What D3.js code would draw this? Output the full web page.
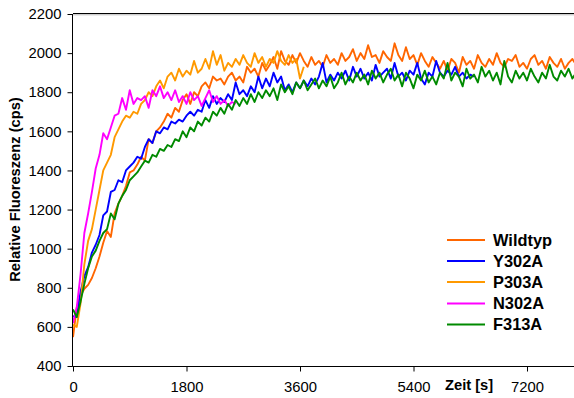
<!DOCTYPE html>
<html>
<head>
<meta charset="utf-8">
<script src="https://cdn.jsdelivr.net/npm/d3@7"></script>
<style>
  html, body { margin: 0; padding: 0; background: #fff; }
  svg { display: block; font-family: "Liberation Sans", Arial, sans-serif; }
</style>
</head>
<body>
<svg id="chart" width="574" height="398"></svg>
<script>
// sampling step of every series (seconds)
const timeStep = 60;

const seriesNames = ["Wildtyp", "Y302A", "P303A", "N302A", "F313A"];
const seriesColors = ["#ff6600", "#0000ff", "#ff9900", "#ff00ff", "#008a00"];

const wildtyp = [548,700,760,795,815,850,900,960,1030,1090,1060,1180,1230,1270,1320,1390,1400,1430,1470,1450,
1560,1540,1600,1620,1650,1690,1670,1720,1700,1760,1790,1740,1800,1780,1830,1850,1820,1880,1860,1870,
1840,1880,1900,1860,1880,1850,1930,1900,1920,1880,1950,1910,1940,1980,1920,2010,1960,1940,1990,1950,
2000,1960,1930,1980,1940,1960,1930,1990,1950,1970,1940,2000,1960,1980,2020,1960,2000,1970,2040,1980,
1990,1950,2010,1980,1960,2050,1990,1960,2030,1970,1990,1940,2000,1960,1930,1980,1950,1920,1960,1910,
1970,1950,1900,1980,1940,1960,1920,1990,1950,1930,1970,1940,2000,1950,1930,1970,1960,1990,1930,1950,
1920,1970,1990,1940,1960,1920,1980,1950,1930,1970,1920,1950,1970,1940];

const y302a = [655,650,780,860,905,980,1020,1070,1170,1190,1290,1300,1350,1340,1400,1420,1440,1470,1460,1520,
1560,1540,1600,1590,1620,1610,1650,1640,1660,1650,1680,1700,1680,1710,1700,1760,1720,1780,1740,1770,
1750,1790,1760,1850,1790,1810,1780,1830,1800,1880,1820,1870,1830,1900,1850,1880,1810,1840,1800,1850,
1820,1860,1830,1870,1840,1880,1950,1850,1890,1860,1900,1870,1910,1860,1930,1880,1920,1870,1900,1860,
1940,1880,1900,1920,1870,1950,1880,1900,1860,1910,1890,1950,1870,1840,1900,1880,1960,1900,1880,1910,
1890,1930,1880,1900,1870,1890,1880];

const p303a = [610,600,720,920,1040,1100,1200,1300,1400,1440,1480,1570,1610,1650,1680,1670,1700,1690,1740,1760,
1800,1780,1830,1860,1820,1880,1900,1860,1920,1880,1910,1890,1960,1900,1920,1970,1920,2010,1940,1990,
1910,1950,1930,1970,1940,1990,1950,1930,2000,1950,1980,1930,1970,1950,2010,1960,1940,1990,1950,1970,
1870,1930];

const n302a = [620,700,870,1080,1180,1290,1410,1480,1590,1560,1620,1680,1690,1770,1710,1810,1740,1770,1760,1780,
1720,1810,1780,1830,1770,1800,1760,1810,1750,1780,1740,1800,1760,1780,1730,1770,1810,1750,1780,1740,
1760,1730,1750,1740];

const f313a = [690,650,730,820,900,960,990,1040,1080,1100,1180,1150,1230,1270,1300,1350,1370,1390,1420,1450,
1440,1480,1470,1510,1500,1530,1520,1560,1550,1600,1570,1620,1600,1650,1630,1670,1650,1700,1680,1720,
1690,1740,1710,1760,1730,1770,1740,1790,1750,1800,1770,1810,1780,1820,1760,1840,1800,1830,1790,1850,
1820,1860,1810,1840,1870,1820,1860,1830,1880,1820,1850,1900,1840,1880,1850,1900,1860,1890,1840,1910,
1870,1900,1850,1890,1920,1860,1890,1830,1900,1870,1820,1890,1860,1910,1850,1880,1840,1900,1870,1950,
1860,1900,1880,1830,1920,1870,1890,1850,1930,1880,1910,1860,1900,1840,1960,1880,1850,1910,1870,1900,
1860,1920,1880,1850,1900,1870,1940,1880,1860,1910,1880,1920,1870,1900];

const allSeries = [wildtyp, y302a, p303a, n302a, f313a];

const xTicks = [0, 1800, 3600, 5400, 7200];
const yTicks = [400, 600, 800, 1000, 1200, 1400, 1600, 1800, 2000, 2200];

const xTitle = "Zeit [s]";
const yTitle = "Relative Fluoreszenz (cps)";

// layout
const svg = d3.select("#chart");
const plotLeft = 73, plotTop = 14, plotBottom = 366, plotRight = 574;

const x = d3.scaleLinear().domain([0, 7200]).range([plotLeft, 527]);
const y = d3.scaleLinear().domain([400, 2200]).range([plotBottom, plotTop]);

// frame top border (with light shadow)
svg.append("line").attr("x1", plotLeft).attr("x2", plotRight).attr("y1", 13.5).attr("y2", 13.5)
  .attr("stroke", "#000").attr("stroke-width", 1);
svg.append("line").attr("x1", plotLeft).attr("x2", plotRight).attr("y1", 14.8).attr("y2", 14.8)
  .attr("stroke", "#b8b8b8").attr("stroke-width", 1);

// lines
const line = d3.line()
  .x((d, i) => x(i * timeStep))
  .y(d => y(d));

svg.append("g").selectAll("path")
  .data(allSeries)
  .join("path")
  .attr("d", d => line(d))
  .attr("fill", "none")
  .attr("stroke", (d, i) => seriesColors[i])
  .attr("stroke-width", 1.9)
  .attr("stroke-linejoin", "round");

// axes
const yAxis = svg.append("g")
  .attr("transform", `translate(${plotLeft - 0.5},0)`)
  .call(d3.axisLeft(y).tickValues(yTicks).tickFormat(d3.format("d")).tickSize(5).tickPadding(6).tickSizeOuter(0));
yAxis.select(".domain").remove();
yAxis.append("line").attr("x1", 0).attr("x2", 0).attr("y1", plotTop).attr("y2", plotBottom + 0.5)
  .attr("stroke", "#000");

const xAxis = svg.append("g")
  .attr("transform", `translate(0,${plotBottom + 0.5})`)
  .call(d3.axisBottom(x).tickValues(xTicks).tickFormat(d3.format("d")).tickSize(5).tickPadding(10).tickSizeOuter(0));
xAxis.select(".domain").remove();
xAxis.append("line").attr("x1", plotLeft - 0.5).attr("x2", plotRight).attr("y1", 0).attr("y2", 0)
  .attr("stroke", "#000");

svg.selectAll(".tick text")
  .attr("font-family", "'Liberation Sans', Arial, sans-serif")
  .attr("font-size", 14.8)
  .attr("fill", "#000");
svg.selectAll(".tick line").attr("stroke", "#000");

// axis titles
svg.append("text")
  .attr("x", 445).attr("y", 390)
  .attr("font-size", 14.7).attr("font-weight", "bold")
  .text(xTitle);

svg.append("text")
  .attr("transform", "translate(20,189.5) rotate(-90)")
  .attr("text-anchor", "middle")
  .attr("font-size", 14.7).attr("font-weight", "bold")
  .text(yTitle);

// legend
const legendY = [240, 261, 282, 303.5, 324.5];
const legend = svg.append("g");
seriesNames.forEach((name, i) => {
  legend.append("line")
    .attr("x1", 447).attr("x2", 485)
    .attr("y1", legendY[i]).attr("y2", legendY[i])
    .attr("stroke", seriesColors[i]).attr("stroke-width", 2);
  legend.append("text")
    .attr("x", 493).attr("y", legendY[i])
    .attr("dy", "0.36em")
    .attr("font-size", 16.4).attr("font-weight", "bold")
    .text(name);
});
</script>
</body>
</html>
